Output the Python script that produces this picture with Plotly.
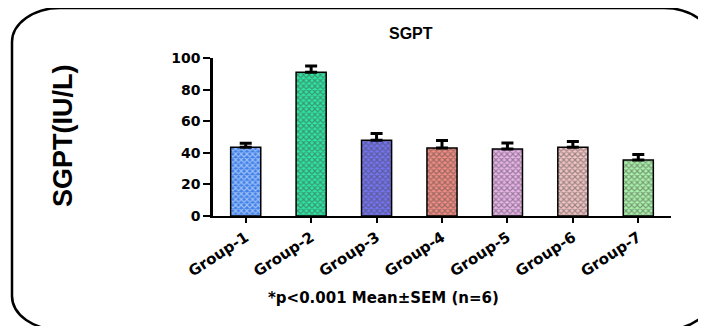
import plotly.graph_objects as go

categories = ["Group-1", "Group-2", "Group-3", "Group-4", "Group-5", "Group-6", "Group-7"]
means = [43.5, 91.0, 48.0, 43.0, 42.4, 43.5, 35.4]
sems = [2.5, 4.0, 4.2, 4.8, 3.8, 3.6, 3.6]
colors = ["#3f80ea", "#2ee6a2", "#7474f2", "#f08c82", "#eab4ea", "#f2c4c4", "#aaf2aa"]
y_ticks = [0, 20, 40, 60, 80, 100]

W, H = 706, 326
OFF = 8  # page offset of the plot div
# target screen coordinates of the plotting area
SX0, SX1, SY0, SY1 = 213, 671, 58, 216
L, T = SX0 - OFF, SY0 - OFF
R, B = W - (SX1 - OFF), H - (SY1 - OFF)
PW, PH = SX1 - SX0, SY1 - SY0


def px(x, y):
    return (x - SX0) / PW, (SY1 - y) / PH


fig = go.Figure()
fig.add_trace(go.Bar(
    x=categories, y=means,
    width=0.46,
    marker=dict(
        color=colors,
        line=dict(color="black", width=1.5),
        pattern=dict(shape="x", size=4, solidity=0.5, fgcolor="#111111", fillmode="overlay"),
    ),
    error_y=dict(type="data", symmetric=False, array=sems, arrayminus=[0] * len(sems),
                 color="black", thickness=3, width=6),
    showlegend=False,
))

# rounded frame (screen coords)
x0, y0, x1, y1 = 12, 8, 712, 330
rx, ry = 48, 34


def P(x, y):
    a, b = px(x, y)
    return f"{a:.5f},{b:.5f}"


path = (f"M {P(x0 + rx, y0)} L {P(x1 - rx, y0)} "
        f"C {P(x1 - rx*0.45, y0)} {P(x1, y0 + ry*0.45)} {P(x1, y0 + ry)} "
        f"L {P(x1, y1 - ry)} "
        f"C {P(x1, y1 - ry*0.45)} {P(x1 - rx*0.45, y1)} {P(x1 - rx, y1)} "
        f"L {P(x0 + rx, y1)} "
        f"C {P(x0 + rx*0.45, y1)} {P(x0, y1 - ry*0.45)} {P(x0, y1 - ry)} "
        f"L {P(x0, y0 + ry)} "
        f"C {P(x0, y0 + ry*0.45)} {P(x0 + rx*0.45, y0)} {P(x0 + rx, y0)} Z")
fig.add_shape(type="path", path=path, xref="paper", yref="paper",
              line=dict(color="black", width=2.5), layer="above")

bold = "DejaVu Sans"
ax, ay = px(411, 33)
fig.add_annotation(text="<b>SGPT</b>", x=ax, y=ay, xref="paper", yref="paper",
                   xanchor="center", yanchor="middle",
                   showarrow=False, font=dict(family="Liberation Sans", size=16, color="black"))
ax, ay = px(63, 136)
fig.add_annotation(text="<b>SGPT(IU/L)</b>", x=ax, y=ay, xref="paper", yref="paper",
                   xanchor="center", yanchor="middle",
                   showarrow=False, textangle=-90,
                   font=dict(family="Liberation Sans", size=27, color="black"))
ax, ay = px(383, 298)
fig.add_annotation(text="<b>*p<0.001 Mean±SEM (n=6)</b>", x=ax, y=ay, xref="paper", yref="paper",
                   xanchor="center", yanchor="middle",
                   showarrow=False, font=dict(family=bold, size=15, color="black"))

fig.update_layout(
    width=W, height=H,
    margin=dict(l=L, r=R, t=T, b=B),
    paper_bgcolor="white", plot_bgcolor="white",
)
fig.update_xaxes(
    range=[-0.5, 6.5], showline=True, linecolor="black", linewidth=2,
    ticks="outside", ticklen=5, tickwidth=2, tickcolor="black",
    tickangle=-33, tickfont=dict(family=bold, size=15, color="black", weight="bold"),
    showgrid=False, zeroline=False,
)
fig.update_yaxes(
    range=[0, 100], tickvals=y_ticks, showline=True, linecolor="black", linewidth=2.5,
    ticks="outside", ticklen=7, tickwidth=2, tickcolor="black",
    tickfont=dict(family=bold, size=14, color="black", weight="bold"),
    showgrid=False, zeroline=False,
)

fig.write_html("out.html")
